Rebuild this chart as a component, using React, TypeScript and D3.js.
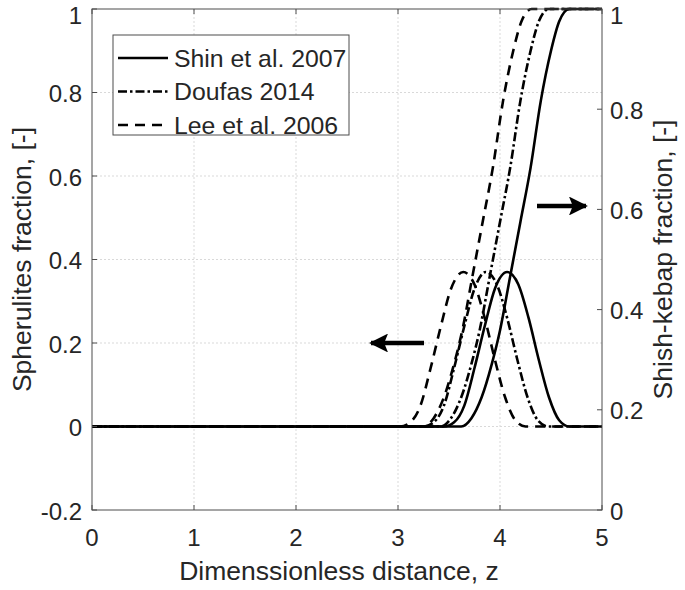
import React from "react";
import * as d3 from "d3";

// Spherulites (bell) curves: [z, fraction]
const shinBell: [number, number][] = [
  [0, 0], [3.45, 0], [3.55, 0.01], [3.65, 0.05], [3.75, 0.14], [3.85, 0.24], [3.95, 0.33],
  [4.07, 0.37], [4.18, 0.34], [4.28, 0.26], [4.38, 0.16], [4.48, 0.07], [4.58, 0.015], [4.68, 0], [5, 0],
];
const doufasBell: [number, number][] = [
  [0, 0], [3.25, 0], [3.35, 0.01], [3.45, 0.05], [3.55, 0.14], [3.65, 0.24], [3.75, 0.33],
  [3.86, 0.37], [3.97, 0.34], [4.07, 0.26], [4.17, 0.16], [4.27, 0.07], [4.37, 0.015], [4.47, 0], [5, 0],
];
const leeBell: [number, number][] = [
  [0, 0], [3.02, 0], [3.12, 0.01], [3.22, 0.05], [3.32, 0.14], [3.42, 0.24], [3.52, 0.33],
  [3.64, 0.37], [3.75, 0.34], [3.85, 0.26], [3.95, 0.16], [4.05, 0.07], [4.15, 0.015], [4.25, 0], [5, 0],
];
// Shish-kebap (sigmoid) curves, expressed in left-axis units (0 -> 1)
const shinSig: [number, number][] = [
  [0, 0], [3.62, 0], [3.72, 0.02], [3.82, 0.07], [3.92, 0.15], [4.0, 0.23], [4.1, 0.36], [4.2, 0.49],
  [4.3, 0.62], [4.4, 0.78], [4.5, 0.9], [4.58, 0.97], [4.68, 1], [5, 1],
];
const doufasSig: [number, number][] = [
  [0, 0], [3.42, 0], [3.52, 0.02], [3.62, 0.07], [3.72, 0.15], [3.8, 0.23], [3.9, 0.36], [4.0, 0.49],
  [4.1, 0.62], [4.2, 0.78], [4.3, 0.9], [4.38, 0.97], [4.48, 1], [5, 1],
];
const leeSig: [number, number][] = [
  [0, 0], [3.25, 0], [3.35, 0.02], [3.45, 0.07], [3.55, 0.15], [3.63, 0.23], [3.73, 0.36], [3.83, 0.49],
  [3.93, 0.62], [4.03, 0.78], [4.13, 0.9], [4.21, 0.97], [4.31, 1], [5, 1],
];

const xTicks = [0, 1, 2, 3, 4, 5];
const yLeftTicks = [-0.2, 0, 0.2, 0.4, 0.6, 0.8, 1];
const yRightTicks = [0, 0.2, 0.4, 0.6, 0.8, 1];
const legendLabels = ["Shin et al. 2007", "Doufas 2014", "Lee et al. 2006"];

const W = 685, H = 590;
const L = 92, R = 602, T = 9, B = 510;
const FONT = "'Liberation Sans', Arial, sans-serif";
const TXT = "#262626";
const AX = "#4d4d4d";

const styles = [
  { dash: "none" },
  { dash: "9,3,2.5,3" },
  { dash: "10,7" },
];

export default function App() {
  const x = d3.scaleLinear().domain([0, 5]).range([L, R]);
  const yL = d3.scaleLinear().domain([-0.2, 1]).range([B, T]);
  const yR = d3.scaleLinear().domain([0, 1]).range([B, T]);
  const line = d3.line<[number, number]>().x(d => x(d[0])).y(d => yL(d[1])).curve(d3.curveMonotoneX);

  const series = [
    { d: shinBell, s: 0 }, { d: shinSig, s: 0 },
    { d: doufasBell, s: 1 }, { d: doufasSig, s: 1 },
    { d: leeBell, s: 2 }, { d: leeSig, s: 2 },
  ];
  const fmt = (v: number) => (Math.abs(v) < 1e-9 ? "0" : String(+v.toFixed(1)));
  const ly = (y: number) => Math.max(y, 14);

  return (
    <svg width={W} height={H} style={{ position: "absolute", left: 0, top: 0, background: "#fff" }} fontFamily={FONT}>
      <rect x={0} y={0} width={W} height={H} fill="#fff" />
      {/* grid */}
      {xTicks.slice(1, -1).map(t => (
        <line key={"gx" + t} x1={x(t)} x2={x(t)} y1={T} y2={B} stroke="#d9d9d9" strokeWidth={1} strokeDasharray="2,2" />
      ))}
      {yLeftTicks.slice(1, -1).map(t => (
        <line key={"gy" + t} x1={L} x2={R} y1={yL(t)} y2={yL(t)} stroke="#d9d9d9" strokeWidth={1} strokeDasharray="2,2" />
      ))}
      {/* curves */}
      <g clipPath="url(#clip)">
        {series.map((sr, i) => (
          <path key={i} d={line(sr.d) || ""} fill="none" stroke="#000" strokeWidth={2.6}
            strokeDasharray={styles[sr.s].dash} />
        ))}
      </g>
      <defs>
        <clipPath id="clip"><rect x={L - 2} y={T - 2} width={R - L + 4} height={B - T + 4} /></clipPath>
        <marker id="ah" viewBox="0 0 10 10" refX={9} refY={5} markerWidth={4.2} markerHeight={4.2} orient="auto">
          <path d="M0,0 L10,5 L0,10 L2,5 Z" fill="#000" />
        </marker>
      </defs>
      {/* axes box */}
      <rect x={L} y={T} width={R - L} height={B - T} fill="none" stroke={AX} strokeWidth={1} />
      {/* x ticks */}
      {xTicks.map(t => (
        <g key={"xt" + t}>
          <line x1={x(t)} x2={x(t)} y1={B} y2={B - 5} stroke={AX} />
          <line x1={x(t)} x2={x(t)} y1={T} y2={T + 5} stroke={AX} />
          <text x={x(t)} y={537} textAnchor="middle" dominantBaseline="central" fontSize={24} fill={TXT}>{t}</text>
        </g>
      ))}
      {yLeftTicks.map(t => (
        <g key={"yl" + t}>
          <line x1={L} x2={L + 5} y1={yL(t)} y2={yL(t)} stroke={AX} />
          <text x={82} y={ly(yL(t)) + 1} textAnchor="end" dominantBaseline="central" fontSize={24} fill={TXT}>{fmt(t)}</text>
        </g>
      ))}
      {yRightTicks.map(t => (
        <g key={"yr" + t}>
          <line x1={R} x2={R - 5} y1={yR(t)} y2={yR(t)} stroke={AX} />
          <text x={610} y={ly(yR(t)) + 1} textAnchor="start" dominantBaseline="central" fontSize={24} fill={TXT}>{fmt(t)}</text>
        </g>
      ))}
      {/* axis labels */}
      <text x={(L + R) / 2 - 8} y={571} textAnchor="middle" dominantBaseline="central" fontSize={26.5} fill={TXT}>
        Dimenssionless distance, z
      </text>
      <text transform={`translate(22,${(T + B) / 2}) rotate(-90)`} textAnchor="middle" dominantBaseline="central" fontSize={26.5} fill={TXT}>
        Spherulites fraction, [-]
      </text>
      <text transform={`translate(663,${(T + B) / 2}) rotate(-90)`} textAnchor="middle" dominantBaseline="central" fontSize={26.5} fill={TXT}>
        Shish-kebap fraction, [-]
      </text>
      {/* arrows */}
      <line x1={537} x2={586} y1={206} y2={206} stroke="#000" strokeWidth={4.5} markerEnd="url(#ah)" />
      <line x1={424} x2={371} y1={343} y2={343} stroke="#000" strokeWidth={4.5} markerEnd="url(#ah)" />
      {/* legend */}
      <rect x={113} y={35} width={236} height={100} fill="#fff" stroke={AX} strokeWidth={1} />
      {legendLabels.map((lab, i) => {
        const cy = 58 + i * 33.5;
        return (
          <g key={lab}>
            <line x1={118} x2={168} y1={cy} y2={cy} stroke="#000" strokeWidth={2.6} strokeDasharray={styles[i].dash} />
            <text x={174} y={cy} dominantBaseline="central" fontSize={24.8} fill={TXT}>{lab}</text>
          </g>
        );
      })}
    </svg>
  );
}
